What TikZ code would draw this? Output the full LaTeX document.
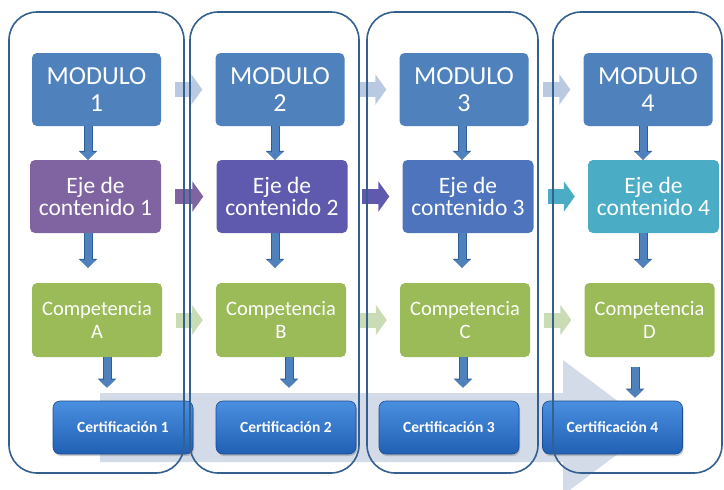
\documentclass[tikz,border=0pt]{standalone}
\usepackage{fontspec}
\setmainfont{Carlito}
\usetikzlibrary{arrows.meta,shadows}

\definecolor{modblue}{HTML}{4F81BD}
\definecolor{ejeA}{HTML}{8064A2}
\definecolor{ejeB}{HTML}{5F5AAE}
\definecolor{ejeC}{HTML}{4F74BE}
\definecolor{ejeD}{HTML}{4BACC6}
\definecolor{compgreen}{HTML}{9BBB59}
\definecolor{colline}{HTML}{345F8F}
\definecolor{bandgrey}{HTML}{D3DAE8}
\definecolor{modarrow}{HTML}{B9C9E2}
\definecolor{comparrow}{HTML}{CADCB4}
\definecolor{vdark}{HTML}{2F5E96}
\definecolor{certtop}{HTML}{4A8FE0}
\definecolor{certbot}{HTML}{2160B4}

\begin{document}
\begin{tikzpicture}[x=1pt,y=-1pt]
        \tikzstyle{modbox}=[rounded corners=5pt,fill=modblue,text=white,minimum width=129pt,minimum height=73pt,align=center,inner sep=0pt,font=\fontsize{26}{27}\selectfont]
        \tikzstyle{ejebox}=[rounded corners=5pt,text=white,minimum width=131pt,minimum height=73pt,align=center,inner sep=0pt,font=\fontsize{23.5}{22.5}\selectfont]
        \tikzstyle{compbox}=[rounded corners=5pt,fill=compgreen,text=white,minimum width=130pt,minimum height=74pt,align=center,inner sep=0pt,font=\fontsize{20.5}{22.5}\selectfont]
        \tikzstyle{certbox}=[rounded corners=7pt,top color=certtop,bottom color=certbot,draw=certbot!80!black,line width=0.6pt,text=white,minimum width=140pt,minimum height=53pt,inner sep=0pt,font=\fontsize{15.5}{17}\selectfont\bfseries,drop shadow={shadow xshift=1pt,shadow yshift=-2pt,opacity=0.4}]
        \tikzstyle{column}=[rounded corners=28pt,draw=colline,line width=1.6pt,minimum height=461pt,inner sep=0pt]
        \tikzstyle{hop}=[line width=15pt,shorten <=14pt,shorten >=13pt,-{Triangle[width=30pt,length=11pt]}]
        \tikzstyle{drop}=[line width=7pt,draw=modblue,-{Triangle[width=15pt,length=8pt]},preaction={draw=vdark,line width=9pt,-{Triangle[width=18pt,length=9pt]}}]

        \useasboundingbox (0,0) rectangle (724,490);

        % big background arrow
        \fill[bandgrey] (100,393) -- (563,393) -- (563,360) -- (653,427.5) -- (563,495) -- (563,462) -- (100,462) -- cycle;

        \foreach \num/\x in {1/96.5, 2/280, 3/464, 4/648}
                \node[modbox] (m\num) at (\x,89.5) {MODULO\\\num};

        \node[ejebox,fill=ejeA] (e1) at (95.5,196.5) {Eje de\\contenido 1};
        \node[ejebox,fill=ejeB] (e2) at (282,196.5) {Eje de\\contenido 2};
        \node[ejebox,fill=ejeC] (e3) at (468,196.5) {Eje de\\contenido 3};
        \node[ejebox,fill=ejeD] (e4) at (653.5,196.5) {Eje de\\contenido 4};

        \foreach \num/\l/\x in {1/A/97, 2/B/281, 3/C/465, 4/D/649.5}
                \node[compbox] (c\num) at (\x,320) {Competencia\\\l};

        \foreach \num/\x in {1/123, 2/286, 3/449, 4/612.5}
                \node[certbox] (cert\num) at (\x,427.5) {Certificación \num};

        % arrows between columns
        \foreach \from/\to in {1/2, 2/3, 3/4}
        {
                \draw[hop,draw=modarrow] (m\from) -- (m\to);
                \draw[hop,draw=comparrow] (c\from) -- (c\to);
        }
        \draw[hop,draw=ejeA] (e1) -- (e2);
        \draw[hop,draw=ejeB] (e2) -- (e3);
        \draw[hop,draw=ejeD] (e3) -- (e4);

        % arrows down each column
        \foreach \num/\dm/\dc/\sa/\sb in {1/-8.5/10/0/13, 2/-5/8/0/13, 3/-2/-2/0/13, 4/-5/-14.5/10/3}
        {
                \draw[drop] ([xshift=\dm pt]m\num.south) -- ([xshift=\dm pt]m\num.south |- e\num.north);
                \draw[drop,shorten >=15pt] ([xshift=\dm pt]m\num.south |- e\num.south) -- ([xshift=\dm pt]m\num.south |- c\num.north);
                \draw[drop,shorten <=\sa pt,shorten >=\sb pt] ([xshift=\dc pt]c\num.south) -- ([xshift=\dc pt]c\num.south |- cert\num.north);
        }

        \foreach \num/\x/\w in {1/96.5/175, 2/274.5/169, 3/452.5/171, 4/637.5/169}
                \node[column,minimum width=\w pt] (col\num) at (\x,242.5) {};
\end{tikzpicture}
\end{document}
